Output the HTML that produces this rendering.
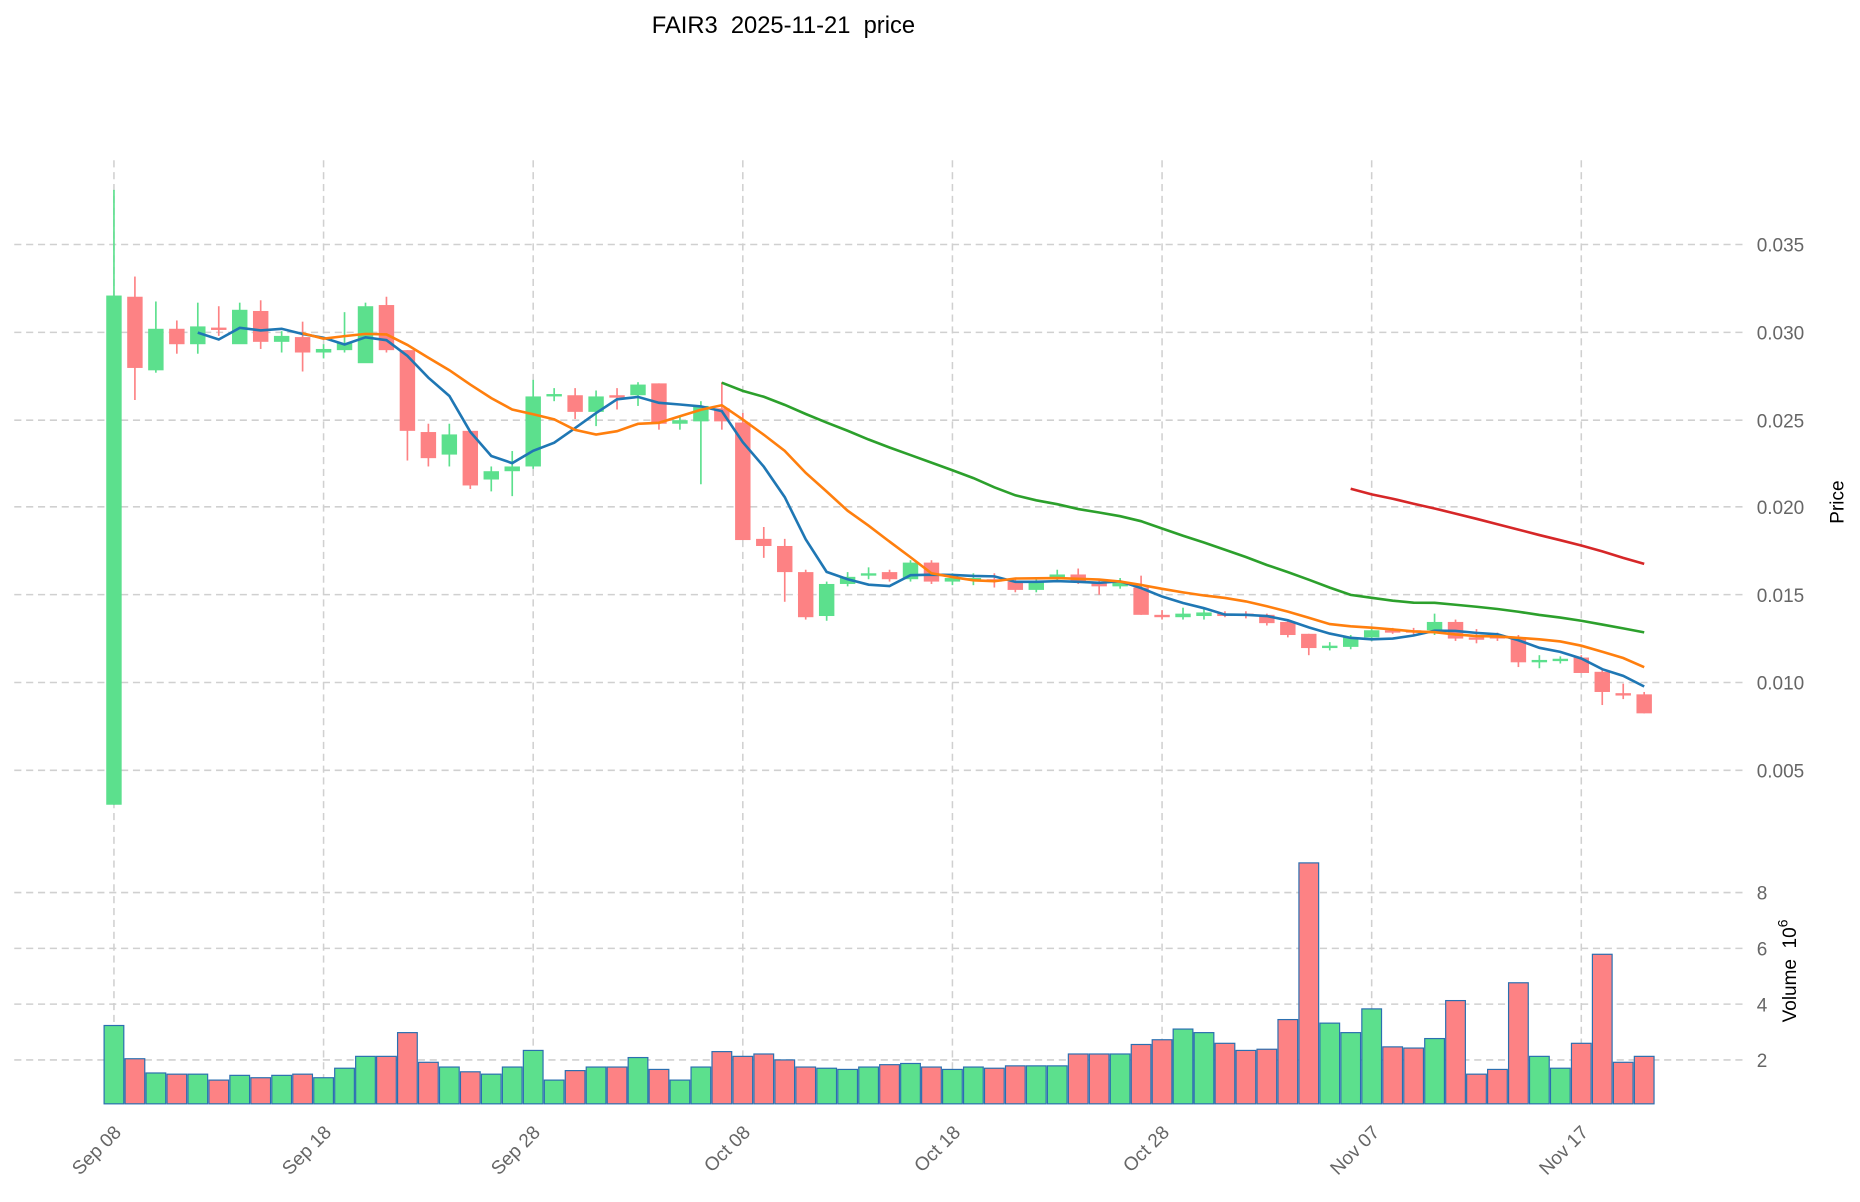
<!DOCTYPE html>
<html><head><meta charset="utf-8"><style>
body{margin:0;background:#fff;}
svg{display:block;font-family:"Liberation Sans","DejaVu Sans",sans-serif;}
.t{fill:#666;font-size:16px;}
</style></head><body>
<svg id="s" width="1860" height="1202" viewBox="0 0 1567 1012.7" preserveAspectRatio="none" xmlns="http://www.w3.org/2000/svg">
<rect width="1570" height="1015" fill="#fff"/>
<text x="660" y="28" font-size="20" fill="#000" text-anchor="middle" style="white-space:pre">FAIR3  2025-11-21  price</text>
<g id="grid" stroke="#d0d0d0" stroke-width="1.3" stroke-dasharray="6,4"></g>
<g id="vol"></g>
<g id="cdl"></g>
<g id="ma" fill="none" stroke-width="2.2"></g>
<g class="t">
<text x="1480" y="212">0.035</text>
<text x="1480" y="286">0.030</text>
<text x="1480" y="360">0.025</text>
<text x="1480" y="433">0.020</text>
<text x="1480" y="507">0.015</text>
<text x="1480" y="581">0.010</text>
<text x="1480" y="655">0.005</text>
<text x="1480" y="758">8</text>
<text x="1480" y="805">6</text>
<text x="1480" y="852">4</text>
<text x="1480" y="899">2</text>
</g>
<text transform="translate(1553,423) rotate(-90)" font-size="16" text-anchor="middle" fill="#000">Price</text>
<text transform="translate(1513,818) rotate(-90)" font-size="16" text-anchor="middle" fill="#000" style="white-space:pre">Volume  10<tspan dy="-7" font-size="12">6</tspan></text>
<g class="t" text-anchor="end">
<text transform="translate(103,955) rotate(-45)">Sep 08</text>
<text transform="translate(280,955) rotate(-45)">Sep 18</text>
<text transform="translate(456,955) rotate(-45)">Sep 28</text>
<text transform="translate(633,955) rotate(-45)">Oct 08</text>
<text transform="translate(810,955) rotate(-45)">Oct 18</text>
<text transform="translate(986,955) rotate(-45)">Oct 28</text>
<text transform="translate(1163,955) rotate(-45)">Nov 07</text>
<text transform="translate(1339,955) rotate(-45)">Nov 17</text>
</g>
</svg>
<script>
const NS="http://www.w3.org/2000/svg";
function el(p,t,a){const e=document.createElementNS(NS,t);for(const k in a)e.setAttribute(k,a[k]);p.appendChild(e);return e;}
const g=document.getElementById('grid');
[206,280,354,427,501,575,649,752,799,846,893].forEach(y=>el(g,'line',{x1:12,x2:1470,y1:y,y2:y}));
for(let i=0;i<8;i++){const x=96+176.6*i;el(g,'line',{x1:x,x2:x,y1:135,y2:930});}
const D=[[678,249,160,678],[250,310,233,337],[312,277,254,314],[277,290,270,298],[290,275,255,298],[276,278,258,283],[290,261,255,288],[262,288,253,294],[288,283,279,297],[284,297,271,313],
[297,294,290,302],[295,289,263,297],[306,258,255,302],[257,295,250,297],[295,363,295,388],[364,386,357,393],[383,366,357,393],[363,409,363,412],[404,397,393,414],[397,393,380,418],
[393,334,320,395],[334,332,327,338],[333,347,327,353],[347,334,329,359],[333,335,327,345],[333,324,322,342],[323,357,323,362],[357,354,350,362],[355,342,338,408],[344,355,322,362],
[356,455,348,455],[454,460,444,470],[460,482,454,507],[482,520,480,522],[519,492,490,523],[492,486,482,494],[485,483,478,488],[482,488,480,490],[488,474,472,490],[474,490,472,492],
[490,487,483,493],[489,487,483,493],[488,490,483,495],[490,497,488,499],[497,490,487,499],[488,484,480,490],[484,490,479,492],[491,494,489,501],[494,491,487,496],[495,518,485,518],
[518,520,514,522],[520,517,512,522],[519,516,512,522],[517,518,515,520],[517,519,515,521],[518,525,517,527],[524,535,522,537],[534,546,534,552],[546,544,541,548],[545,537,535,547],
[537,531,530,540],[531,532,529,534],[531,533,529,535],[531,524,517,535],[524,538,522,540],[537,539,530,542],[536,538,533,540],[537,558,535,562],[558,556,552,563],[557,555,553,559],
[554,567,552,567],[566,583,563,594],[584,586,576,589],[585,601,583,601]];
const V=[864,892,904,905,905,910,906,908,906,905,908,900,890,890,870,895,899,903,905,899,885,910,902,899,899,891,901,910,899,886,890,888,893,899,900,901,899,897,896,899,901,899,900,898,898,898,888,888,888,880,876,867,870,879,885,884,859,727,862,870,850,882,883,875,843,905,901,828,890,900,879,804,895,890];
const GR="#5ce08d",RD="#fd8284";
const cg=document.getElementById('cdl'),vg=document.getElementById('vol');
D.forEach((d,i)=>{const x=96+17.66*i;const up=d[1]<=d[0];const c=up?GR:RD;
el(cg,'line',{x1:x,x2:x,y1:d[2],y2:d[3],stroke:c,'stroke-width':1.4});
const t=Math.min(d[0],d[1]),h=Math.max(2,Math.abs(d[0]-d[1]));
el(cg,'rect',{x:x-6.5,y:t,width:13,height:h,fill:c});
el(vg,'rect',{x:x-8.3,y:V[i],width:16.6,height:930-V[i],fill:c,stroke:"#2b6fb0",'stroke-width':1});});
const C=D.map(d=>d[1]);
const mg=document.getElementById('ma');
[[5,"#1f77b4"],[10,"#ff7f0e"],[30,"#2ca02c"],[60,"#d62728"]].forEach(([n,col])=>{let p=[];
for(let i=n-1;i<C.length;i++){let s=0;for(let j=i-n+1;j<=i;j++)s+=C[j];p.push((96+17.66*i).toFixed(1)+","+(s/n).toFixed(1));}
el(mg,'polyline',{points:p.join(" "),stroke:col});});
</script>
</body></html>
